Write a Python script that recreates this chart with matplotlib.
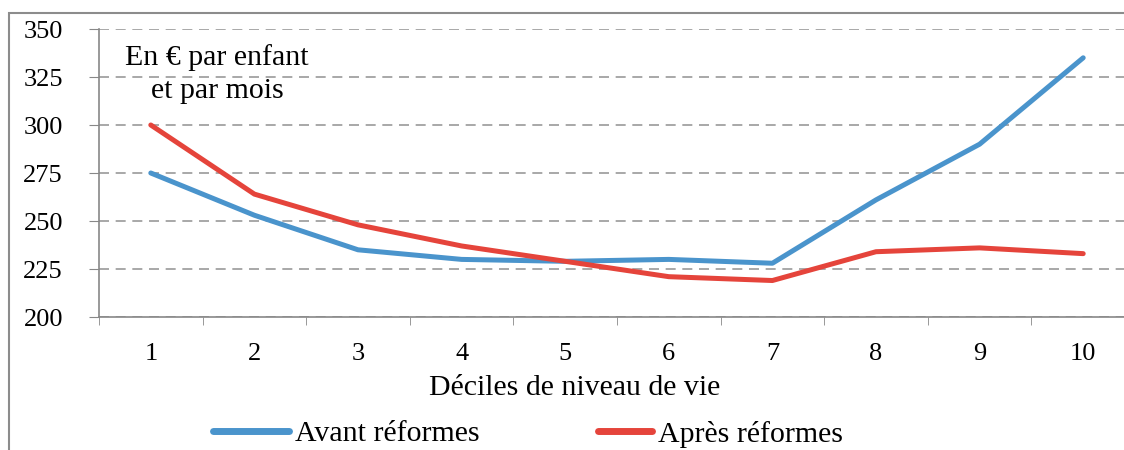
import matplotlib.pyplot as plt
from matplotlib.lines import Line2D
from matplotlib.patches import Rectangle

# Données
deciles = [1, 2, 3, 4, 5, 6, 7, 8, 9, 10]
avant = [275, 253, 235, 230, 229, 230, 228, 261, 290, 335]
apres = [300, 264, 248, 237, 229, 221, 219, 234, 236, 233]
yticks = [200, 225, 250, 275, 300, 325, 350]

plt.rcParams['font.family'] = ['Liberation Serif', 'DejaVu Serif']

BLEU = '#4a94cc'
ROUGE = '#e5443b'
FS = 19     # graduations
FT = 21.5   # textes

W, H = 1124, 450
fig = plt.figure(figsize=(W / 100, H / 100), dpi=100)
# axes qui dépasse à droite comme dans l'original (coupé)
ax = fig.add_axes([99 / W, 1 - 317 / H, 1036 / W, 288 / H])

ax.plot(deciles, avant, color=BLEU, lw=3.6, solid_capstyle='round')
ax.plot(deciles, apres, color=ROUGE, lw=3.6, solid_capstyle='round')

ax.set_xlim(0.5, 10.5)
ax.set_ylim(200, 350)
ax.set_yticks(yticks)
ax.set_xticks(deciles)
ax.set_xticks([d + 0.5 for d in range(0, 10)], minor=True)
ax.tick_params(axis='x', which='major', length=0, pad=19, labelsize=FS)
ax.tick_params(axis='x', which='minor', length=6, color='#888888', direction='out')
ax.tick_params(axis='y', length=7, color='#888888', pad=19, labelsize=FS)
ax.grid(axis='y', color='#999999', ls=(0, (6, 4)), lw=1.2)
ax.set_axisbelow(True)
for s in ['top', 'right']:
    ax.spines[s].set_visible(False)
for s in ['left', 'bottom']:
    ax.spines[s].set_color('#888888')
    ax.spines[s].set_linewidth(1.2)

ax.set_xlabel('Déciles de niveau de vie', fontsize=FT)
ax.xaxis.set_label_coords((575 - 99) / 1036, -(388 - 317) / 288)
ax.xaxis.label.set_verticalalignment('center')
ax.text(1.64, 342, 'En € par enfant\net par mois',
        fontsize=FT, ha='center', va='top', linespacing=1.33)

# légende : deux entrées placées séparément
fig.legend(handles=[Line2D([], [], color=BLEU, lw=5, solid_capstyle='round')],
           labels=['Avant réformes'], loc='center left',
           bbox_to_anchor=(213 / W, 1 - 434 / H), frameon=False, fontsize=FT,
           handlelength=2.55, handletextpad=0.2, borderpad=0, borderaxespad=0)
fig.legend(handles=[Line2D([], [], color=ROUGE, lw=5, solid_capstyle='round')],
           labels=['Après réformes'], loc='center left',
           bbox_to_anchor=(598 / W, 1 - 434 / H), frameon=False, fontsize=FT,
           handlelength=1.8, handletextpad=0.2, borderpad=0, borderaxespad=0)

# cadre extérieur
fig.patches.append(Rectangle((9 / W, -0.1), 1.2, 1 - 13 / H + 0.1,
                             transform=fig.transFigure, fill=False,
                             edgecolor='#8c8c8c', lw=1.5))

fig.savefig('out.png', dpi=100)
